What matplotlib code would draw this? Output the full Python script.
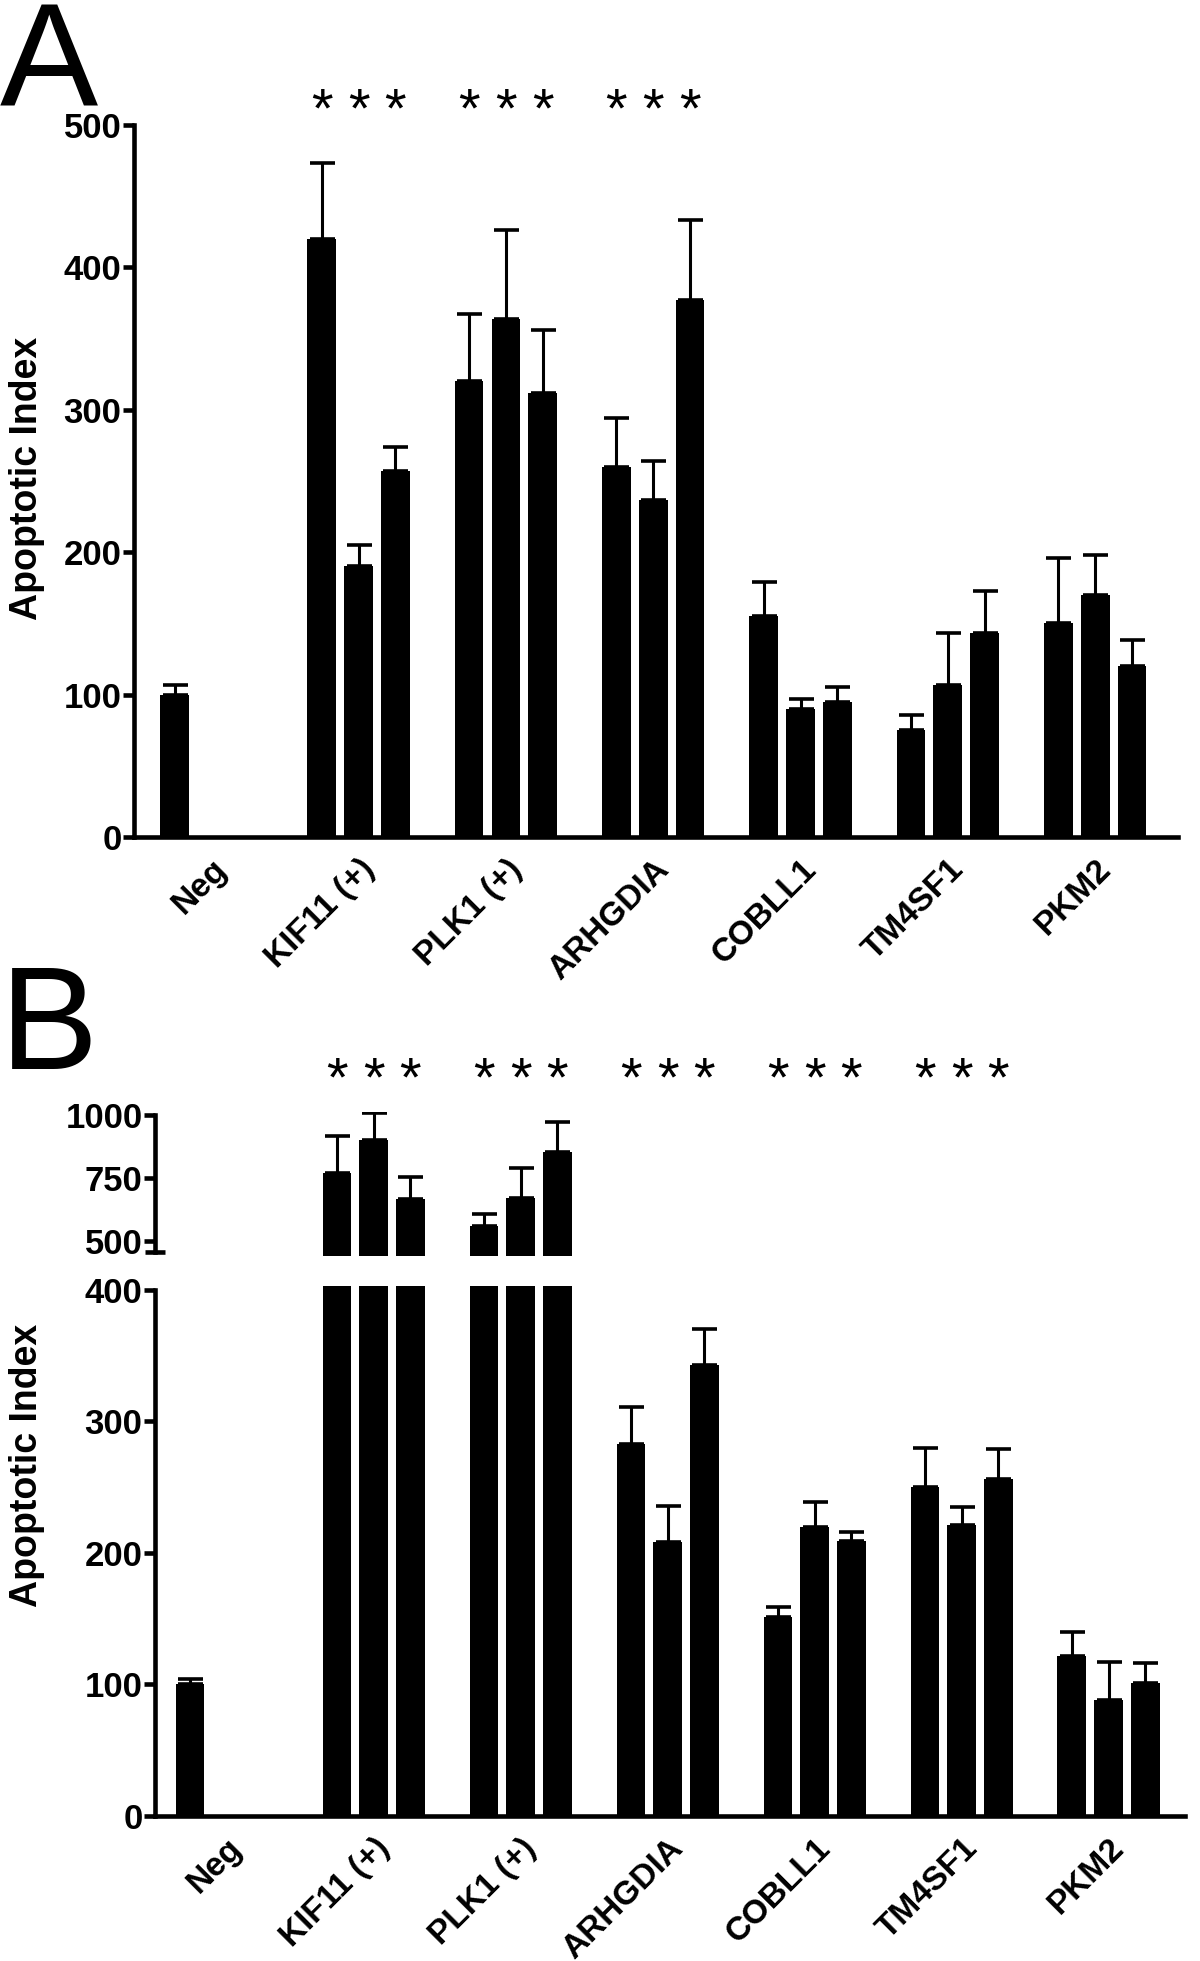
import matplotlib.pyplot as plt

plt.rcParams['font.family'] = ['Liberation Sans', 'DejaVu Sans']

groups = ["Neg", "KIF11 (+)", "PLK1 (+)", "ARHGDIA", "COBLL1", "TM4SF1", "PKM2"]
# Neg has one bar, every other group has three (one per siRNA)
slots = [0] + [4 + 4 * g + k for g in range(6) for k in range(3)]
label_pos = [1, 5, 9, 13, 17, 21, 25]

a_means = [100, 420, 190, 257, 320, 364, 312, 260, 237, 377, 155, 90, 95, 75, 107, 143, 150, 170, 120]
a_errs = [7, 53, 15, 17, 47, 62, 44, 34, 27, 56, 24, 7, 10, 11, 36, 30, 46, 28, 18]
a_sig = ["KIF11 (+)", "PLK1 (+)", "ARHGDIA"]

b_means = [100, 768, 899, 664, 557, 668, 851, 283, 208, 343, 151, 220, 209, 250, 221, 256, 122, 88, 101]
b_errs = [4, 146, 108, 87, 50, 119, 120, 28, 28, 27, 8, 19, 7, 30, 14, 23, 18, 29, 15]
b_sig = ["KIF11 (+)", "PLK1 (+)", "ARHGDIA", "COBLL1", "TM4SF1"]

W, H = 1200, 1961
LW = 3.3
FS = 25


def px_axes(fig, x0, x1, ytop, ybot):
    return fig.add_axes([x0 / W, 1 - ybot / H, (x1 - x0) / W, (ybot - ytop) / H])


def draw_bars(ax, means, errs):
    ax.bar(slots, means, width=0.78, color="black", edgecolor="none")
    ax.errorbar(slots, means, yerr=[[0] * len(errs), errs], fmt="none",
                ecolor="black", elinewidth=2.2, capsize=9, capthick=2.6)


def style(ax):
    for s in ["top", "right"]:
        ax.spines[s].set_visible(False)
    for s in ["left", "bottom"]:
        ax.spines[s].set_linewidth(LW)
    ax.tick_params(axis="y", direction="out", length=8, width=LW, labelsize=FS, pad=1)
    for t in ax.get_yticklabels():
        t.set_fontweight("bold")


def xlabels(ax):
    ax.set_xticks(label_pos)
    ax.set_xticklabels(groups, rotation=45, ha="right", va="top",
                       rotation_mode="anchor", fontsize=24, fontweight="bold")
    ax.tick_params(axis="x", length=0, pad=12)


def stars(ax, sig, yval):
    for g in sig:
        i = groups.index(g) - 1
        for k in range(3):
            ax.text(4 + 4 * i + k, yval, "*", ha="center", va="center",
                    fontsize=40, clip_on=False)


fig = plt.figure(figsize=(W / 100, H / 100), dpi=100)

# panel A
ax = px_axes(fig, 134, 1178, 125, 837)
draw_bars(ax, a_means, a_errs)
ax.set_xlim(-1.1, 27.25)
ax.set_ylim(0, 500)
ax.set_yticks([0, 100, 200, 300, 400, 500])
style(ax)
xlabels(ax)
stars(ax, a_sig, 509)
fig.text(27 / W, 1 - 478 / H, "Apoptotic Index", rotation=90, ha="center", va="center",
         fontsize=27, fontweight="bold")
fig.text(0, 1 - 106 / H, "A", fontsize=106, va="baseline")

# panel B, broken y axis
top = px_axes(fig, 155, 1185, 1112, 1256)
low = px_axes(fig, 155, 1185, 1286, 1816)
for a in (top, low):
    draw_bars(a, b_means, b_errs)
    a.set_xlim(-0.95, 27.08)
top.set_ylim(440, 1010)
top.set_yticks([500, 750, 1000])
top.set_yticks([454], minor=True)
top.spines["left"].set_bounds(454, 1000)
top.spines["bottom"].set_visible(False)
style(top)
top.tick_params(axis="y", which="minor", direction="inout", length=14, width=LW)
top.set_xticks([])

low.set_ylim(0, 403)
low.set_yticks([0, 100, 200, 300, 400])
low.spines["left"].set_bounds(0, 400)
style(low)
xlabels(low)
stars(top, b_sig, 1130)
fig.text(27 / W, 1 - 1465 / H, "Apoptotic Index", rotation=90, ha="center", va="center",
         fontsize=27, fontweight="bold")
fig.text(0, 1 - 1069 / H, "B", fontsize=106, va="baseline")

fig.savefig("out.png", dpi=100)
